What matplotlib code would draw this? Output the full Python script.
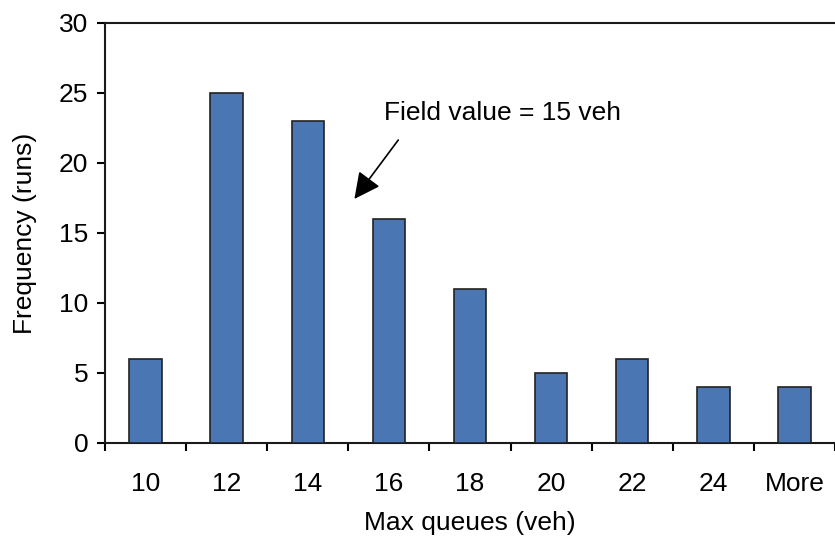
import matplotlib
matplotlib.use('Agg')
import matplotlib.pyplot as plt
import numpy as np

# Histogram of max queues across runs
categories = ['10', '12', '14', '16', '18', '20', '22', '24', 'More']
frequency = [6, 25, 23, 16, 11, 5, 6, 4, 4]

plt.rcParams['font.family'] = ['Liberation Sans', 'DejaVu Sans']
plt.rcParams['font.size'] = 19

fig = plt.figure(figsize=(8.35, 5.42), dpi=100)
ax = fig.add_axes([0.1257, 0.1827, 0.8743, 0.7749])

x = np.arange(len(categories))
ax.bar(x, frequency, width=0.4, color='#4A76B3', edgecolor='#222222', linewidth=1.2, zorder=3)

ax.set_xlim(-0.5, len(categories) - 0.5)
ax.set_ylim(0, 30)
ax.set_yticks(np.arange(0, 31, 5))

# labels at bar centres, tick marks between categories
ax.set_xticks(x)
ax.set_xticklabels(categories)
ax.set_xticks(np.arange(-0.5, len(categories), 1.0), minor=True)
ax.tick_params(axis='x', which='major', length=0, pad=21, labelsize=19)
ax.tick_params(axis='x', which='minor', length=6, width=1.5, direction='out')
ax.tick_params(axis='y', length=6, width=1.5, direction='out', pad=6, labelsize=19)

for side in ['left', 'bottom', 'top']:
    ax.spines[side].set_linewidth(1.5)
    ax.spines[side].set_color('#1a1a1a')
ax.spines['right'].set_visible(False)

ax.set_xlabel('Max queues (veh)', fontsize=19, labelpad=11)
ax.set_ylabel('Frequency (runs)', fontsize=19, labelpad=16)

ax.text(2.944, 23.6, 'Field value = 15 veh', fontsize=19, va='center', ha='left')
ax.annotate('', xy=(2.575, 17.43), xytext=(3.116, 21.64),
            arrowprops=dict(arrowstyle='-|>,head_length=0.8,head_width=0.4',
                            color='black', lw=1.2, mutation_scale=20,
                            shrinkA=0, shrinkB=0))

fig.savefig('out.png', dpi=100)
